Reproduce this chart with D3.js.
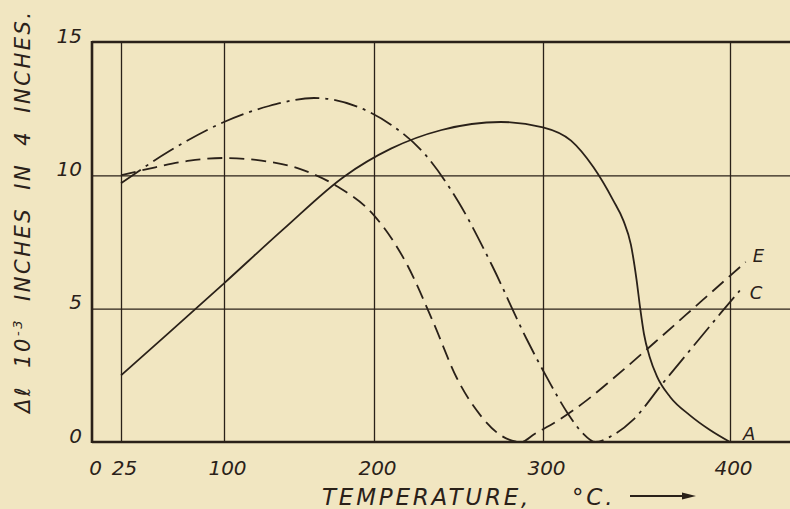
<!DOCTYPE html>
<html>
<head>
<meta charset="utf-8">
<script src="https://cdn.jsdelivr.net/npm/d3@7"></script>
<style>
  html, body { margin: 0; padding: 0; background: #f1e6c1; }
  svg { display: block; }
  text { font-family: "DejaVu Sans", sans-serif; font-style: italic; fill: #2a2119; }
</style>
</head>
<body>
<div id="chart"></div>
<script>
// tick labels / grid positions
var xTicks = [0, 25, 100, 200, 300, 400];
var xGrid = [25, 100, 200, 300, 400];
var yTicks = [0, 5, 10, 15];
var yGrid = [5, 10];

// curve A (solid)
var tempA = [25, 60, 100, 140, 180, 210, 240, 275, 300, 315, 327, 337.4, 343, 347, 350, 352, 354, 357, 361, 368, 378.6, 389.3, 400];
var valA  = [2.5, 4.1, 5.95, 8.0, 9.95, 11.0, 11.7, 12.0, 11.8, 11.3, 10.3, 9.08, 8.3, 7.4, 6.1, 5.0, 4.05, 3.2, 2.45, 1.69, 1.0, 0.45, 0];

// curve C (dash - dot)
var tempC = [25, 60, 100, 130, 160, 190, 210, 230, 250, 270, 290, 303, 313, 321, 328, 336, 348, 364, 380, 395, 405];
var valC  = [9.7, 10.9, 12.0, 12.6, 12.9, 12.55, 11.9, 10.8, 9.0, 6.6, 3.9, 2.3, 1.1, 0.35, 0, 0.2, 0.82, 2.2, 3.56, 4.83, 5.68];

// curve E (long dashes)
var tempE = [25, 50, 75, 100, 125, 150, 175, 200, 220, 235, 249, 263, 275, 287, 295, 309, 323.5, 337, 360, 385, 408];
var valE  = [10.0, 10.3, 10.55, 10.65, 10.55, 10.25, 9.6, 8.5, 6.6, 4.5, 2.4, 1.0, 0.25, 0, 0.3, 0.85, 1.57, 2.35, 3.75, 5.3, 6.75];

var ink = "#2a2119";
var width = 790, height = 509;

var svg = d3.select("#chart").append("svg")
  .attr("width", width)
  .attr("height", height);

// the scan is stretched to the right, so the temperature axis is not evenly spaced
var x = d3.scaleLinear()
  .domain([0, 25, 100, 200, 300, 400, 450])
  .range([92, 121, 224, 374, 543, 730, 828]);
var y = d3.scaleLinear()
  .domain([0, 15])
  .range([442, 42]);

// vertical grid
svg.append("g")
  .attr("transform", "translate(0," + y(0) + ")")
  .call(d3.axisBottom(x).tickValues(xGrid).tickSize(-(y(0) - y(15))).tickFormat(""))
  .call(g => g.select(".domain").remove())
  .call(g => g.selectAll("line").attr("stroke", ink).attr("stroke-width", 1.3));

// horizontal grid
svg.append("g")
  .attr("transform", "translate(" + x(0) + ",0)")
  .call(d3.axisLeft(y).tickValues(yGrid).tickSize(-(x(450) - x(0))).tickFormat(""))
  .call(g => g.select(".domain").remove())
  .call(g => g.selectAll("line").attr("stroke", ink).attr("stroke-width", 1.3));

// frame
svg.append("line").attr("x1", x(0)).attr("x2", x(450)).attr("y1", y(15)).attr("y2", y(15))
  .attr("stroke", ink).attr("stroke-width", 2.6);
svg.append("line").attr("x1", x(0)).attr("x2", x(450)).attr("y1", y(0)).attr("y2", y(0))
  .attr("stroke", ink).attr("stroke-width", 2.6);
svg.append("line").attr("x1", x(0)).attr("x2", x(0)).attr("y1", y(15) - 1).attr("y2", y(0) + 1)
  .attr("stroke", ink).attr("stroke-width", 2.6);

// tick labels
svg.append("g")
  .attr("transform", "translate(0," + y(0) + ")")
  .call(d3.axisBottom(x).tickValues(xTicks).tickSize(0))
  .call(g => g.select(".domain").remove())
  .call(g => g.selectAll("text")
    .attr("y", 33).attr("dy", 0).attr("x", 3)
    .style("font-size", "20px").style("font-family", "DejaVu Sans").attr("fill", ink));

svg.append("g")
  .attr("transform", "translate(" + x(0) + ",0)")
  .call(d3.axisLeft(y).tickValues(yTicks).tickSize(0).tickPadding(10))
  .call(g => g.select(".domain").remove())
  .call(g => g.selectAll("text")
    .attr("dy", 0)
    .style("font-size", "20px").style("font-family", "DejaVu Sans").attr("fill", ink));

// curves
var series = [
  { name: "A", t: tempA, v: valA, dash: null, dx: 13, dy: -2 },
  { name: "C", t: tempC, v: valC, dash: "24,6,3,6", dx: 10, dy: 8 },
  { name: "E", t: tempE, v: valE, dash: "15,7", dx: 7, dy: 0 }
];

var line = d3.line()
  .x(d => x(d[0]))
  .y(d => y(d[1]))
  .curve(d3.curveMonotoneX);

series.forEach(function (s) {
  var pts = s.t.map((t, i) => [t, s.v[i]]);
  svg.append("path")
    .datum(pts)
    .attr("d", line)
    .attr("fill", "none")
    .attr("stroke", ink)
    .attr("stroke-width", 1.8)
    .attr("stroke-dasharray", s.dash);
  var last = pts[pts.length - 1];
  svg.append("text")
    .attr("x", x(last[0]) + s.dx)
    .attr("y", y(last[1]) + s.dy)
    .style("font-size", "18px")
    .text(s.name);
});

// axis titles
var xt = svg.append("text")
  .attr("x", 322).attr("y", 505)
  .style("font-size", "23px")
  .style("letter-spacing", "2.8px");
xt.append("tspan").text("TEMPERATURE,");
xt.append("tspan").attr("x", 572).text("°C.");

svg.append("line").attr("x1", 630).attr("x2", 684).attr("y1", 496).attr("y2", 496)
  .attr("stroke", ink).attr("stroke-width", 1.8);
svg.append("path").attr("d", "M682,492.5 L696,496 L682,499.5 Z").attr("fill", ink);

var yt = svg.append("text")
  .attr("transform", "translate(30,413) rotate(-90)")
  .style("font-size", "21px")
  .style("letter-spacing", "2.5px")
  .style("word-spacing", "8px");
yt.append("tspan").text("Δℓ 10");
yt.append("tspan").attr("dy", -8).style("font-size", "13px").text("-3");
yt.append("tspan").attr("dy", 8).text(" INCHES IN 4 INCHES.");
</script>
</body>
</html>
